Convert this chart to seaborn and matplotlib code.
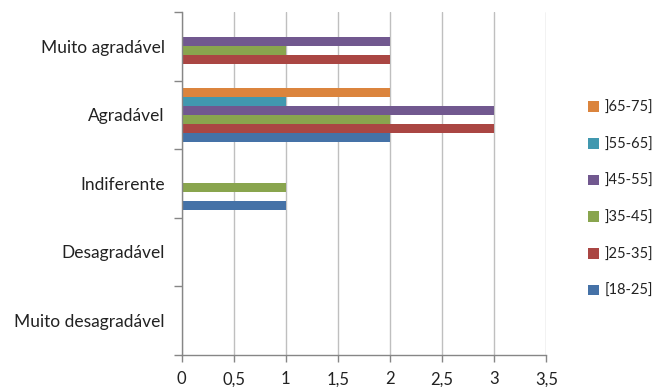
import matplotlib
matplotlib.use("Agg")
import matplotlib.pyplot as plt
import seaborn as sns
import pandas as pd
from matplotlib.ticker import FixedLocator, FuncFormatter

# Response categories, top to bottom
categories = ["Muito agradável", "Agradável", "Indiferente", "Desagradável", "Muito desagradável"]

# Age groups (legend order, top to bottom)
age_groups = ["]65-75]", "]55-65]", "]45-55]", "]35-45]", "]25-35]", "[18-25]"]

# Counts per age group, aligned with `categories`
v_65_75 = [0, 2, 0, 0, 0]
v_55_65 = [0, 1, 0, 0, 0]
v_45_55 = [2, 3, 0, 0, 0]
v_35_45 = [1, 2, 1, 0, 0]
v_25_35 = [2, 3, 0, 0, 0]
v_18_25 = [0, 2, 1, 0, 0]

x_ticks = [0, 0.5, 1, 1.5, 2, 2.5, 3, 3.5]

colors = ["#DB843D", "#4198AF", "#71588F", "#89A54E", "#AA4643", "#4572A7"]

series = [v_65_75, v_55_65, v_45_55, v_35_45, v_25_35, v_18_25]
rows = []
for grp, vals in zip(age_groups, series):
    for cat, v in zip(categories, vals):
        rows.append({"categoria": cat, "idade": grp, "valor": v})
df = pd.DataFrame(rows)

sns.set_style("white")
plt.rcParams["font.family"] = ["Lato", "DejaVu Sans"]

fig = plt.figure(figsize=(6.63, 3.87), dpi=100)
ax = fig.add_axes([181.5 / 663, 32.5 / 387, (546.3 - 181.5) / 663, (354.5 - 12) / 387])

sns.barplot(data=df, y="categoria", x="valor", hue="idade",
            order=categories, hue_order=age_groups, palette=colors,
            orient="h", width=0.79, saturation=1, errorbar=None,
            edgecolor="none", linewidth=0, ax=ax)

ax.set_xlim(0, 3.5)
ax.set_ylim(4.5, -0.5)
ax.set_xlabel("")
ax.set_ylabel("")

# Vertical gridlines with comma decimal labels
ax.xaxis.set_major_locator(FixedLocator(x_ticks))
ax.xaxis.set_major_formatter(FuncFormatter(lambda v, p: f"{v:g}".replace(".", ",")))
ax.grid(axis="x", color="#BFBFBF", linewidth=1.0)
ax.grid(axis="y", visible=False)
ax.set_axisbelow(True)

# Category ticks at group boundaries, labels at group centers
ax.yaxis.set_major_locator(FixedLocator([i - 0.5 for i in range(len(categories) + 1)]))
ax.yaxis.set_major_formatter(FuncFormatter(lambda v, p: ""))
ax.yaxis.set_minor_locator(FixedLocator(list(range(len(categories)))))
ax.set_yticklabels(categories, minor=True)
ax.tick_params(axis="y", which="major", length=6, width=1, color="#868686", direction="out", left=True)
ax.tick_params(axis="y", which="minor", length=0, pad=12, labelsize=12.5, labelcolor="#222222")
ax.tick_params(axis="x", which="major", length=5, width=1, color="#868686", direction="out",
               bottom=True, pad=7, labelsize=12, labelcolor="#222222")

for side in ["top", "right"]:
    ax.spines[side].set_visible(False)
for side in ["left", "bottom"]:
    ax.spines[side].set_visible(True)
    ax.spines[side].set_color("#868686")
    ax.spines[side].set_linewidth(1)

handles, labels = ax.get_legend_handles_labels()
ax.legend(handles, labels, loc="center left", bbox_to_anchor=(575 / 663, 187.5 / 387),
          bbox_transform=fig.transFigure, frameon=False, fontsize=10.5,
          handlelength=0.75, handleheight=0.75, handletextpad=0.35, labelspacing=1.55,
          labelcolor="#222222")

fig.savefig("out.png", dpi=100, facecolor="white")
